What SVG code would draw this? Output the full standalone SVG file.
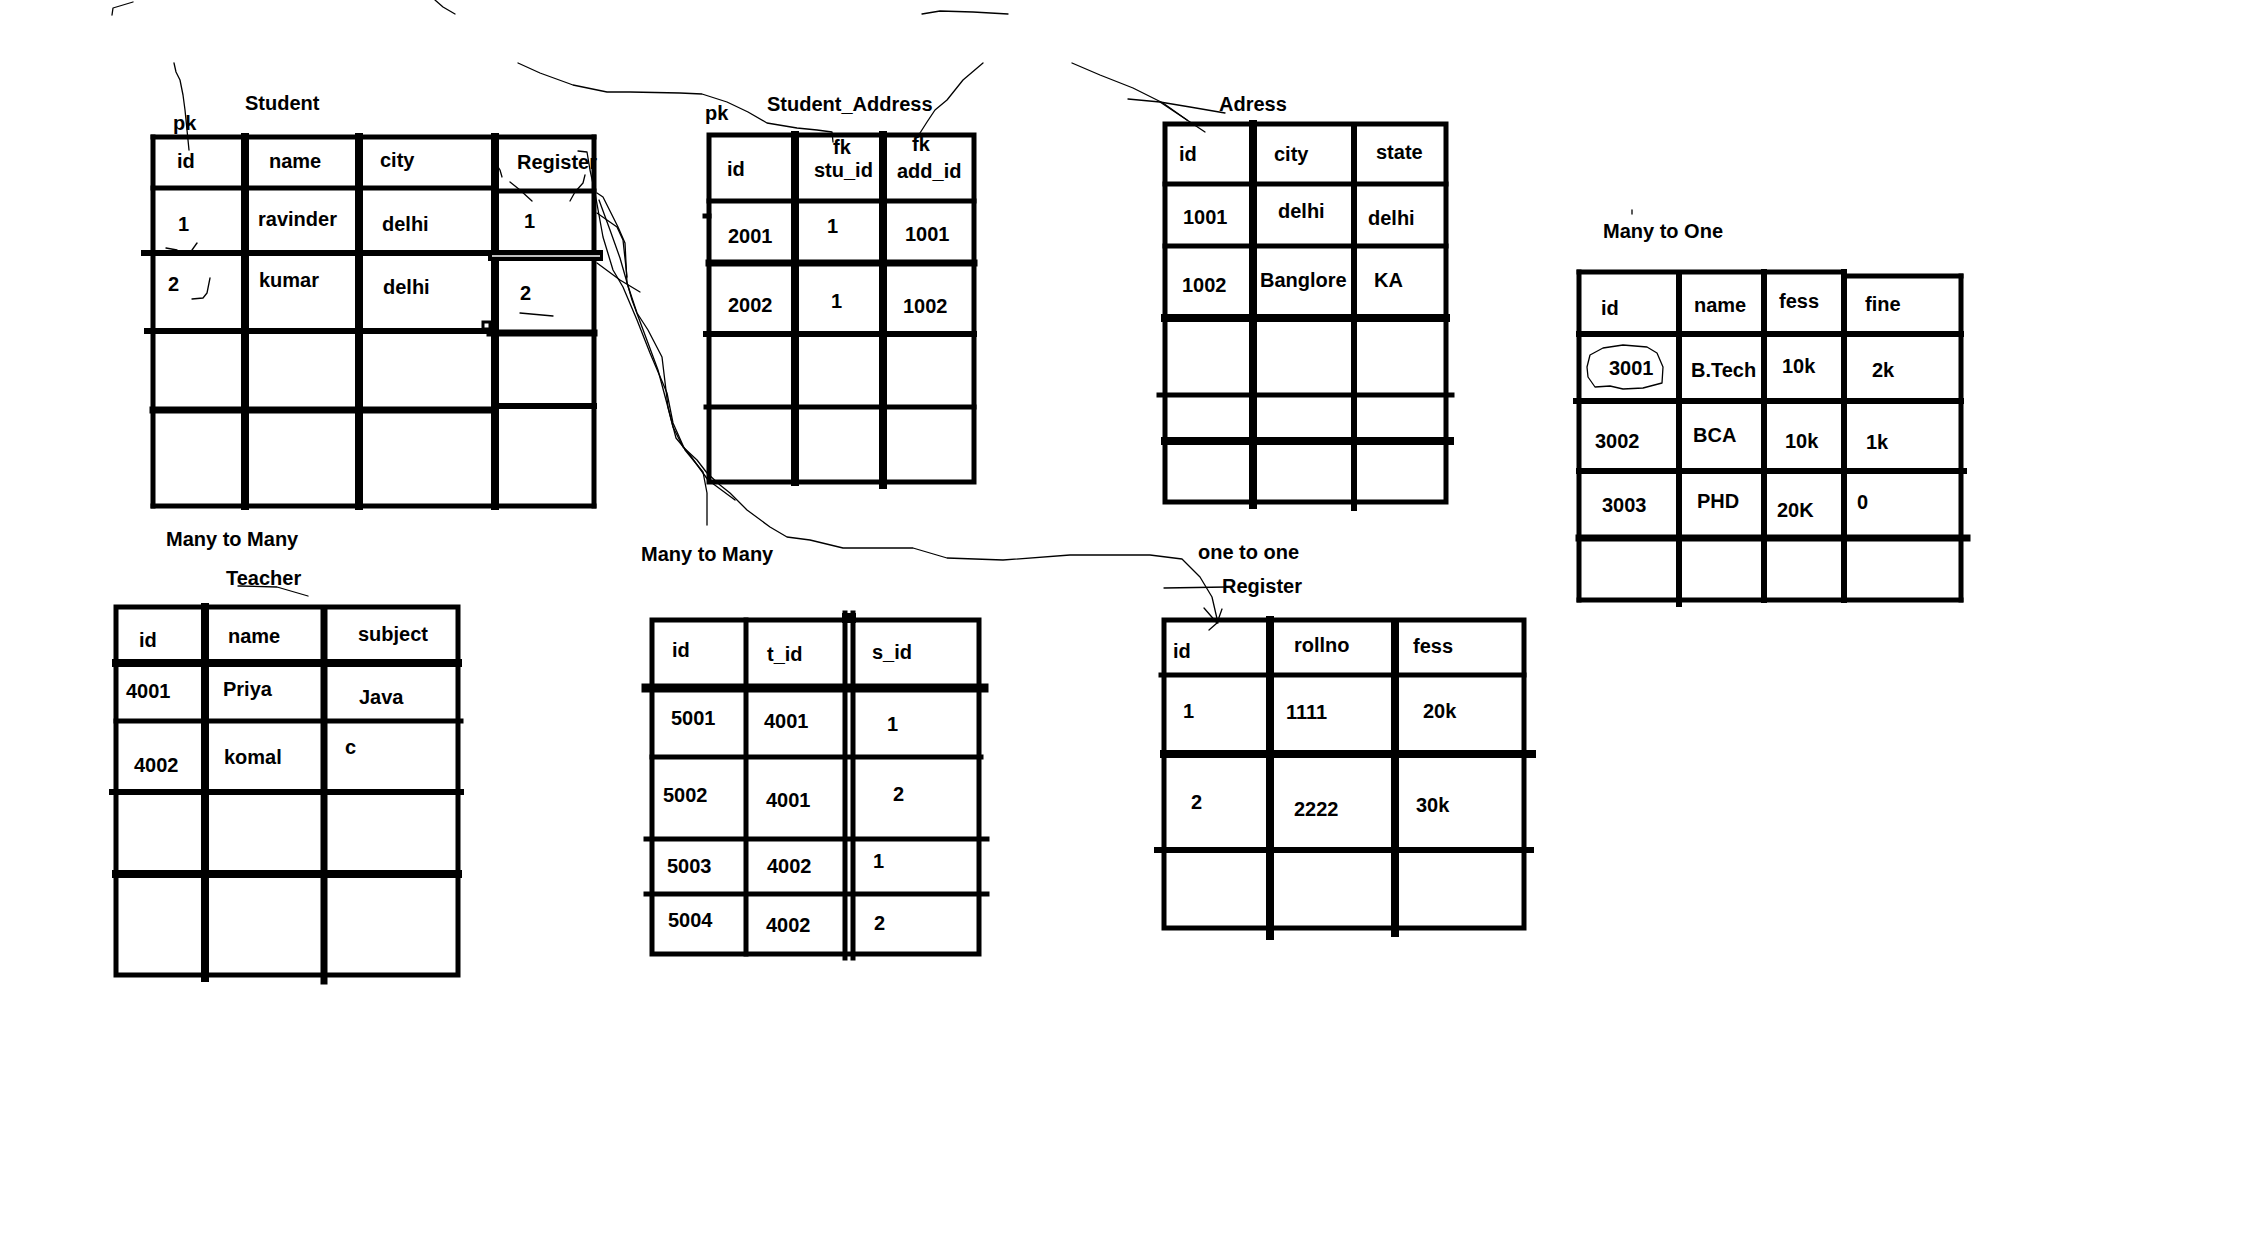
<svg xmlns="http://www.w3.org/2000/svg" width="2254" height="1242" viewBox="0 0 2254 1242">
<style>
.t{font-family:"Liberation Sans",Arial,sans-serif;font-size:20px;font-weight:bold;fill:#000}
.g{stroke:#000;stroke-width:5;stroke-linecap:square;fill:none}
.w6{stroke-width:6}.w7{stroke-width:7}.w8{stroke-width:8}.w9{stroke-width:9}
.c{stroke:#000;stroke-width:1.3;fill:none;stroke-linejoin:round;stroke-linecap:round}
</style>
<rect width="2254" height="1242" fill="#fff"/>

<g id="student">
<text class="t" x="245" y="110">Student</text>
<text class="t" x="173" y="130">pk</text>
<text class="t" x="177" y="168">id</text>
<text class="t" x="269" y="168">name</text>
<text class="t" x="380" y="167">city</text>
<text class="t" x="517" y="169">Register</text>
<text class="t" x="178" y="231">1</text>
<text class="t" x="258" y="226">ravinder</text>
<text class="t" x="382" y="231">delhi</text>
<text class="t" x="524" y="228">1</text>
<text class="t" x="168" y="291">2</text>
<text class="t" x="259" y="287">kumar</text>
<text class="t" x="383" y="294">delhi</text>
<text class="t" x="520" y="300">2</text>
<line class="g" x1="153" y1="137" x2="594" y2="137"/>
<line class="g" x1="153" y1="137" x2="153" y2="506"/>
<line class="g" x1="594" y1="137" x2="594" y2="506"/>
<line class="g" x1="153" y1="506" x2="594" y2="506"/>
<line class="g w8" x1="245" y1="137" x2="245" y2="506"/>
<line class="g w8" x1="359" y1="137" x2="359" y2="506"/>
<line class="g w8" x1="495" y1="137" x2="495" y2="506"/>
<line class="g" x1="153" y1="188" x2="495" y2="188"/>
<line class="g" x1="495" y1="191" x2="594" y2="191"/>
<line class="g w6" x1="144" y1="253" x2="490" y2="253"/>
<rect x="488" y="250" width="115" height="11" fill="#000"/>
<line x1="492" y1="256" x2="600" y2="256" stroke="#fff" stroke-width="1.5"/>
<line class="g w6" x1="147" y1="331" x2="490" y2="331"/>
<line class="g w7" x1="490" y1="333" x2="594" y2="333"/>
<line class="g w7" x1="153" y1="410" x2="495" y2="410"/>
<line class="g w6" x1="495" y1="406" x2="594" y2="406"/>
<rect x="483" y="322" width="7" height="7" fill="none" stroke="#000" stroke-width="3"/>
</g>

<g id="student_address">
<text class="t" x="767" y="111">Student_Address</text>
<text class="t" x="705" y="120">pk</text>
<text class="t" x="727" y="176">id</text>
<text class="t" x="833" y="154">fk</text>
<text class="t" x="814" y="177">stu_id</text>
<text class="t" x="912" y="151">fk</text>
<text class="t" x="897" y="178">add_id</text>
<text class="t" x="728" y="243">2001</text>
<text class="t" x="827" y="233">1</text>
<text class="t" x="905" y="241">1001</text>
<text class="t" x="728" y="312">2002</text>
<text class="t" x="831" y="308">1</text>
<text class="t" x="903" y="313">1002</text>
<rect class="g" x="709" y="135" width="265" height="347"/>
<line class="g w8" x1="795" y1="135" x2="795" y2="482"/>
<line class="g w8" x1="883" y1="135" x2="883" y2="485"/>
<line class="g" x1="709" y1="201" x2="974" y2="201"/>
<line class="g w7" x1="709" y1="263" x2="974" y2="263"/>
<line class="g w6" x1="706" y1="334" x2="974" y2="334"/>
<line class="g" x1="706" y1="407" x2="974" y2="407"/>
<line class="g" x1="705" y1="216" x2="709" y2="216"/>
</g>

<g id="adress">
<text class="t" x="1219" y="111">Adress</text>
<text class="t" x="1179" y="161">id</text>
<text class="t" x="1274" y="161">city</text>
<text class="t" x="1376" y="159">state</text>
<text class="t" x="1183" y="224">1001</text>
<text class="t" x="1278" y="218">delhi</text>
<text class="t" x="1368" y="225">delhi</text>
<text class="t" x="1182" y="292">1002</text>
<text class="t" x="1260" y="287">Banglore</text>
<text class="t" x="1374" y="287">KA</text>
<rect class="g" x="1165" y="124" width="281" height="378"/>
<line class="g w8" x1="1253" y1="124" x2="1253" y2="505"/>
<line class="g w6" x1="1354" y1="128" x2="1354" y2="508"/>
<line class="g" x1="1165" y1="184" x2="1446" y2="184"/>
<line class="g" x1="1165" y1="246" x2="1446" y2="246"/>
<line class="g w8" x1="1165" y1="318" x2="1446" y2="318"/>
<line class="g" x1="1159" y1="395" x2="1452" y2="395"/>
<line class="g w8" x1="1165" y1="441" x2="1450" y2="441"/>
</g>

<g id="many_to_one">
<text class="t" x="1603" y="238">Many to One</text>
<text class="t" x="1601" y="315">id</text>
<text class="t" x="1694" y="312">name</text>
<text class="t" x="1779" y="308">fess</text>
<text class="t" x="1865" y="311">fine</text>
<text class="t" x="1609" y="375">3001</text>
<text class="t" x="1691" y="377">B.Tech</text>
<text class="t" x="1782" y="373">10k</text>
<text class="t" x="1872" y="377">2k</text>
<text class="t" x="1595" y="448">3002</text>
<text class="t" x="1693" y="442">BCA</text>
<text class="t" x="1785" y="448">10k</text>
<text class="t" x="1866" y="449">1k</text>
<text class="t" x="1602" y="512">3003</text>
<text class="t" x="1697" y="508">PHD</text>
<text class="t" x="1777" y="517">20K</text>
<text class="t" x="1857" y="509">0</text>
<line class="g" x1="1579" y1="272" x2="1844" y2="272"/>
<line class="g" x1="1844" y1="276" x2="1961" y2="276"/>
<line class="g" x1="1579" y1="272" x2="1579" y2="600"/>
<line class="g" x1="1961" y1="276" x2="1961" y2="600"/>
<line class="g" x1="1579" y1="600" x2="1961" y2="600"/>
<line class="g w6" x1="1679" y1="274" x2="1679" y2="604"/>
<line class="g w6" x1="1764" y1="272" x2="1764" y2="600"/>
<line class="g w6" x1="1844" y1="272" x2="1844" y2="600"/>
<line class="g w6" x1="1579" y1="334" x2="1961" y2="334"/>
<line class="g w6" x1="1576" y1="401" x2="1961" y2="401"/>
<line class="g w6" x1="1579" y1="471" x2="1964" y2="471"/>
<line class="g w7" x1="1579" y1="538" x2="1967" y2="538"/>
<path class="c" d="M1587,367 L1590,355 L1603,348 L1623,345 L1647,347 L1657,353 L1663,367 L1662,383 L1643,388 L1623,389 L1610,386 L1595,387 L1588,377 Z"/>
<line class="c" x1="1632" y1="210" x2="1632" y2="214"/>
</g>

<g id="teacher">
<text class="t" x="166" y="546">Many to Many</text>
<text class="t" x="226" y="585">Teacher</text>
<text class="t" x="139" y="647">id</text>
<text class="t" x="228" y="643">name</text>
<text class="t" x="358" y="641">subject</text>
<text class="t" x="126" y="698">4001</text>
<text class="t" x="223" y="696">Priya</text>
<text class="t" x="359" y="704">Java</text>
<text class="t" x="134" y="772">4002</text>
<text class="t" x="224" y="764">komal</text>
<text class="t" x="345" y="754">c</text>
<rect class="g" x="116" y="607" width="342" height="368"/>
<line class="g w8" x1="205" y1="607" x2="205" y2="978"/>
<line class="g w7" x1="324" y1="612" x2="324" y2="981"/>
<line class="g w8" x1="116" y1="663" x2="458" y2="663"/>
<line class="g" x1="116" y1="721" x2="461" y2="721"/>
<line class="g w6" x1="112" y1="792" x2="461" y2="792"/>
<line class="g w8" x1="116" y1="874" x2="458" y2="874"/>
</g>

<g id="many_to_many">
<text class="t" x="641" y="561">Many to Many</text>
<text class="t" x="672" y="657">id</text>
<text class="t" x="767" y="661">t_id</text>
<text class="t" x="872" y="659">s_id</text>
<text class="t" x="671" y="725">5001</text>
<text class="t" x="764" y="728">4001</text>
<text class="t" x="887" y="731">1</text>
<text class="t" x="663" y="802">5002</text>
<text class="t" x="766" y="807">4001</text>
<text class="t" x="893" y="801">2</text>
<text class="t" x="667" y="873">5003</text>
<text class="t" x="767" y="873">4002</text>
<text class="t" x="873" y="868">1</text>
<text class="t" x="668" y="927">5004</text>
<text class="t" x="766" y="932">4002</text>
<text class="t" x="874" y="930">2</text>
<rect class="g" x="652" y="620" width="327" height="334"/>
<line class="g" x1="746" y1="620" x2="746" y2="954"/>
<line class="g" x1="845" y1="613" x2="845" y2="958"/>
<line class="g" x1="853" y1="613" x2="853" y2="958"/>
<rect x="842" y="613" width="14" height="10" fill="#000"/>
<line class="g w9" x1="646" y1="688" x2="984" y2="688"/>
<line class="g" x1="652" y1="757" x2="981" y2="757"/>
<line class="g" x1="646" y1="839" x2="987" y2="839"/>
<line class="g" x1="646" y1="894" x2="987" y2="894"/>
</g>

<g id="register">
<text class="t" x="1198" y="559">one to one</text>
<text class="t" x="1222" y="593">Register</text>
<text class="t" x="1173" y="658">id</text>
<text class="t" x="1294" y="652">rollno</text>
<text class="t" x="1413" y="653">fess</text>
<text class="t" x="1183" y="718">1</text>
<text class="t" x="1286" y="719">1111</text>
<text class="t" x="1423" y="718">20k</text>
<text class="t" x="1191" y="809">2</text>
<text class="t" x="1294" y="816">2222</text>
<text class="t" x="1416" y="812">30k</text>
<rect class="g" x="1164" y="620" width="360" height="308"/>
<line class="g w8" x1="1270" y1="620" x2="1270" y2="936"/>
<line class="g w8" x1="1395" y1="624" x2="1395" y2="933"/>
<line class="g" x1="1161" y1="675" x2="1524" y2="675"/>
<line class="g w8" x1="1164" y1="754" x2="1532" y2="754"/>
<line class="g w6" x1="1157" y1="850" x2="1531" y2="850"/>
</g>

<g id="connectors">
<path class="c" d="M174,63 L176,72 L180,80 L183,95 L185,110 L187,130 L189,150"/>
<path class="c" d="M112,15 L113,8 L133,2"/>
<path class="c" d="M435,0 L443,7 L455,14"/>
<path class="c" d="M922,14 L940,11 L973,12 L1008,14"/>
<path class="c" d="M518,63 L540,73 L573,85 L607,92 L630,92 L680,93 L702,94 L727,102 L748,112 L767,123 L797,128 L817,130 L832,132 L833,142"/>
<path class="c" d="M983,63 L963,80 L947,100 L935,110 L927,122 L920,133"/>
<path class="c" d="M1072,63 L1100,75 L1133,88 L1163,103 L1187,120"/>
<path class="c" d="M1128,99 L1160,102 L1190,107 L1225,113"/>
<path class="c" d="M1160,102 L1205,132"/>
<path class="c" d="M578,151 L587,152 L590,170 L595,193 L603,237 L613,270 L623,287 L637,320 L650,353 L667,393 L673,423 L685,450 L703,472 L707,493 L707,525"/>
<path class="c" d="M597,193 L603,197 L618,227 L625,243 L627,283 L637,313 L648,330 L662,357 L668,407 L673,427 L683,447 L697,460 L707,473 L720,485 L730,493 L747,510 L770,527 L787,537 L810,540 L843,548 L913,548 L947,558 L1003,560 L1070,555 L1150,555 L1182,559 L1200,577 L1212,597 L1218,623"/>
<path class="c" d="M597,213 L617,227 L623,240 L627,277"/>
<path class="c" d="M597,263 L620,280 L640,292"/>
<path class="c" d="M599,200 L610,230 L620,258 L632,300 L645,335 L658,370 L666,400 L676,438 L690,455 L708,480 L735,500"/>
<path class="c" d="M1204,608 L1217,623 L1222,609"/>
<path class="c" d="M1217,623 L1209,630"/>
<path class="c" d="M1164,588 L1227,587"/>
<path class="c" d="M238,586 L277,587 L308,596"/>
<path class="c" d="M495,162 L500,170 L502,177"/>
<path class="c" d="M510,182 L520,190 L532,201"/>
<path class="c" d="M570,201 L575,192 L583,183 L585,175"/>
<path class="c" d="M166,248 L177,250"/>
<path class="c" d="M192,250 L197,243"/>
<path class="c" d="M192,299 L203,298 L207,293 L210,278"/>
<path class="c" d="M520,313 L553,316"/>
</g>
</svg>
